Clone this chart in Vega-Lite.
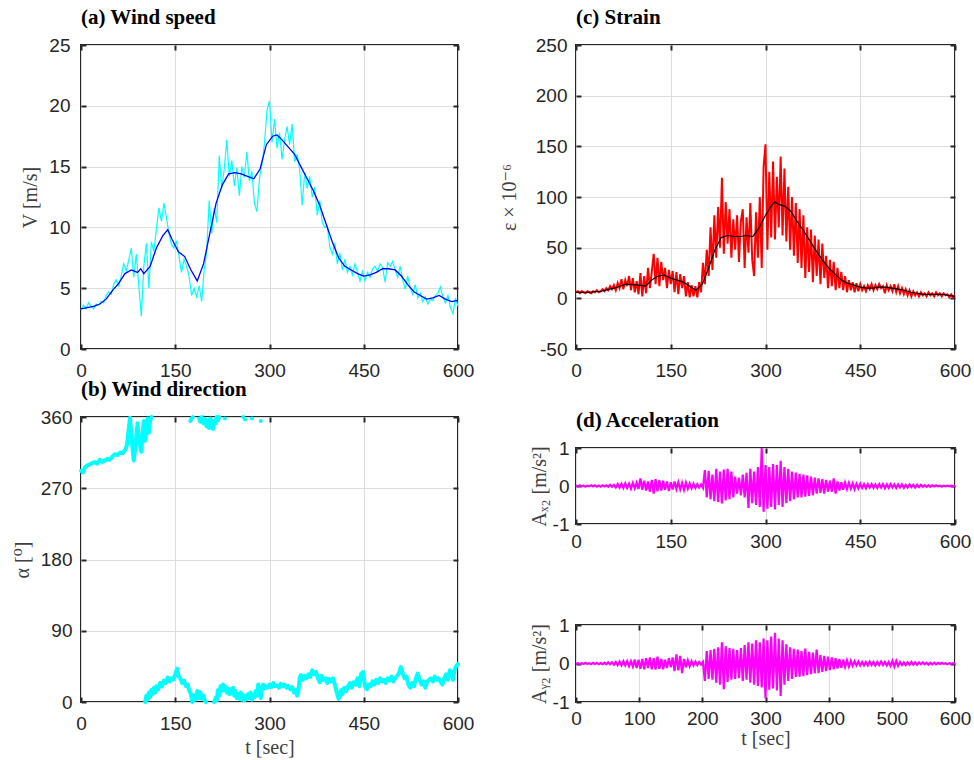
{
"$schema":"https://vega.github.io/schema/vega-lite/v6.json",
"background":"white",
"padding":{"left":11,"top":6,"right":2,"bottom":2},
"config":{
 "view":{"stroke":"#262626","strokeWidth":2},
 "axis":{"labelFont":"Liberation Sans","labelFontSize":19,"labelColor":"#262626","labelFlush":false,"labelOverlap":false,"titleFont":"Liberation Serif, DejaVu Serif","titleFontSize":20,"titleColor":"#404040","titleFontWeight":"normal","gridColor":"#dddddd","gridWidth":1,"domain":false,"tickColor":"#262626","tickSize":-5,"tickWidth":2,"labelPadding":16,"labelExpr":"'' + datum.value"},
 "title":{"font":"Liberation Serif","fontSize":21,"fontWeight":"bold","anchor":"start","frame":"group","color":"#000000","baseline":"alphabetic","offset":8},
 "line":{"strokeCap":"butt"}
},
"datasets":{
"wsRaw":[{"t":0,"v":3.2},{"t":4,"v":3.6},{"t":8,"v":3.3},{"t":12,"v":3.8},{"t":16,"v":3.5},{"t":20,"v":3.3},{"t":24,"v":3.7},{"t":28,"v":3.6},{"t":32,"v":3.9},{"t":36,"v":3.8},{"t":40,"v":4.4},{"t":44,"v":4.7},{"t":48,"v":4.5},{"t":52,"v":5.3},{"t":56,"v":5.7},{"t":60,"v":5.2},{"t":64,"v":6.0},{"t":68,"v":7.0},{"t":72,"v":6.4},{"t":76,"v":7.3},{"t":80,"v":8.3},{"t":84,"v":5.9},{"t":88,"v":7.8},{"t":92,"v":5.2},{"t":96,"v":2.7},{"t":100,"v":6.8},{"t":104,"v":8.7},{"t":108,"v":5.0},{"t":112,"v":8.8},{"t":116,"v":8.0},{"t":120,"v":9.9},{"t":124,"v":11.6},{"t":128,"v":10.5},{"t":132,"v":12.0},{"t":136,"v":10.8},{"t":140,"v":9.5},{"t":144,"v":8.6},{"t":148,"v":8.3},{"t":152,"v":8.9},{"t":156,"v":7.6},{"t":160,"v":6.3},{"t":164,"v":7.4},{"t":168,"v":6.8},{"t":172,"v":6.0},{"t":176,"v":4.4},{"t":180,"v":5.0},{"t":184,"v":4.3},{"t":188,"v":5.2},{"t":192,"v":3.9},{"t":196,"v":6.5},{"t":200,"v":8.0},{"t":204,"v":12.2},{"t":208,"v":9.5},{"t":212,"v":11.6},{"t":216,"v":10.4},{"t":220,"v":15.9},{"t":224,"v":13.2},{"t":228,"v":14.8},{"t":232,"v":17.2},{"t":236,"v":14.2},{"t":240,"v":15.5},{"t":244,"v":13.4},{"t":248,"v":14.9},{"t":252,"v":12.6},{"t":256,"v":15.0},{"t":260,"v":14.1},{"t":264,"v":16.2},{"t":268,"v":13.8},{"t":272,"v":14.6},{"t":276,"v":12.0},{"t":280,"v":11.3},{"t":284,"v":14.0},{"t":288,"v":15.2},{"t":292,"v":16.9},{"t":296,"v":19.6},{"t":300,"v":20.4},{"t":304,"v":17.0},{"t":308,"v":18.9},{"t":312,"v":16.5},{"t":316,"v":17.8},{"t":320,"v":15.6},{"t":324,"v":17.2},{"t":328,"v":18.3},{"t":332,"v":16.8},{"t":336,"v":18.5},{"t":340,"v":15.4},{"t":344,"v":16.0},{"t":348,"v":14.8},{"t":352,"v":11.8},{"t":356,"v":14.5},{"t":360,"v":13.2},{"t":364,"v":14.2},{"t":368,"v":12.5},{"t":372,"v":13.3},{"t":376,"v":11.0},{"t":380,"v":12.2},{"t":384,"v":10.4},{"t":388,"v":10.0},{"t":392,"v":10.1},{"t":396,"v":8.4},{"t":400,"v":7.8},{"t":404,"v":8.7},{"t":408,"v":7.0},{"t":412,"v":7.9},{"t":416,"v":6.5},{"t":420,"v":7.4},{"t":424,"v":6.3},{"t":428,"v":6.8},{"t":432,"v":6.1},{"t":436,"v":7.0},{"t":440,"v":6.3},{"t":444,"v":5.6},{"t":448,"v":6.4},{"t":452,"v":5.6},{"t":456,"v":6.3},{"t":460,"v":5.9},{"t":464,"v":6.6},{"t":468,"v":6.8},{"t":472,"v":6.4},{"t":476,"v":7.0},{"t":480,"v":6.7},{"t":484,"v":5.5},{"t":488,"v":7.1},{"t":492,"v":6.8},{"t":496,"v":7.2},{"t":500,"v":6.5},{"t":504,"v":5.9},{"t":508,"v":6.8},{"t":512,"v":5.7},{"t":516,"v":4.9},{"t":520,"v":6.0},{"t":524,"v":5.0},{"t":528,"v":4.5},{"t":532,"v":5.3},{"t":536,"v":4.2},{"t":540,"v":4.6},{"t":544,"v":3.9},{"t":548,"v":4.3},{"t":552,"v":3.7},{"t":556,"v":4.1},{"t":560,"v":4.0},{"t":564,"v":4.4},{"t":568,"v":4.6},{"t":572,"v":5.1},{"t":576,"v":4.3},{"t":580,"v":3.8},{"t":584,"v":4.4},{"t":588,"v":3.4},{"t":592,"v":2.9},{"t":596,"v":4.2},{"t":600,"v":3.5}],
"wsSmooth":[{"t":0,"v":3.3},{"t":10,"v":3.4},{"t":20,"v":3.5},{"t":30,"v":3.7},{"t":40,"v":4.1},{"t":50,"v":4.8},{"t":60,"v":5.4},{"t":70,"v":6.2},{"t":80,"v":6.5},{"t":90,"v":6.3},{"t":95,"v":6.6},{"t":100,"v":6.2},{"t":110,"v":6.8},{"t":120,"v":8.3},{"t":130,"v":9.3},{"t":138,"v":9.8},{"t":145,"v":9.0},{"t":155,"v":8.0},{"t":165,"v":7.6},{"t":175,"v":6.5},{"t":185,"v":5.6},{"t":195,"v":7.0},{"t":205,"v":9.5},{"t":215,"v":12.0},{"t":225,"v":13.5},{"t":235,"v":14.4},{"t":245,"v":14.5},{"t":255,"v":14.4},{"t":265,"v":14.2},{"t":275,"v":14.0},{"t":285,"v":14.8},{"t":295,"v":16.8},{"t":305,"v":17.5},{"t":312,"v":17.6},{"t":320,"v":17.2},{"t":330,"v":16.6},{"t":340,"v":16.0},{"t":350,"v":15.0},{"t":360,"v":14.0},{"t":370,"v":13.0},{"t":380,"v":11.8},{"t":390,"v":10.3},{"t":400,"v":8.8},{"t":410,"v":7.5},{"t":420,"v":6.8},{"t":430,"v":6.5},{"t":440,"v":6.2},{"t":450,"v":6.0},{"t":460,"v":6.1},{"t":470,"v":6.3},{"t":480,"v":6.6},{"t":490,"v":6.6},{"t":500,"v":6.5},{"t":510,"v":6.0},{"t":520,"v":5.3},{"t":530,"v":4.7},{"t":540,"v":4.4},{"t":550,"v":4.1},{"t":560,"v":4.2},{"t":570,"v":4.4},{"t":580,"v":4.1},{"t":590,"v":3.9},{"t":600,"v":4.0}],
"dirLine":[
{"t":0,"v":292,"seg":"A"},{"t":3,"v":290,"seg":"A"},{"t":6,"v":296,"seg":"A"},{"t":10,"v":299,"seg":"A"},{"t":14,"v":300,"seg":"A"},{"t":18,"v":302,"seg":"A"},{"t":22,"v":303,"seg":"A"},{"t":26,"v":301,"seg":"A"},{"t":30,"v":306,"seg":"A"},{"t":34,"v":303,"seg":"A"},{"t":38,"v":305,"seg":"A"},{"t":42,"v":307,"seg":"A"},{"t":46,"v":306,"seg":"A"},{"t":50,"v":310,"seg":"A"},{"t":54,"v":313,"seg":"A"},{"t":58,"v":312,"seg":"A"},{"t":62,"v":315,"seg":"A"},{"t":66,"v":314,"seg":"A"},{"t":70,"v":318,"seg":"A"},{"t":73,"v":324,"seg":"A"},{"t":76,"v":345,"seg":"A"},{"t":78,"v":359,"seg":"A"},{"t":80,"v":340,"seg":"A"},{"t":82,"v":320,"seg":"A"},{"t":84,"v":305,"seg":"A"},{"t":86,"v":318,"seg":"A"},{"t":88,"v":335,"seg":"A"},{"t":90,"v":352,"seg":"A"},{"t":92,"v":330,"seg":"A"},{"t":94,"v":325,"seg":"A"},{"t":96,"v":316,"seg":"A"},{"t":98,"v":340,"seg":"A"},{"t":100,"v":355,"seg":"A"},{"t":102,"v":330,"seg":"A"},{"t":104,"v":345,"seg":"A"},{"t":106,"v":358,"seg":"A"},{"t":108,"v":340,"seg":"A"},{"t":110,"v":355,"seg":"A"},{"t":112,"v":360,"seg":"A"},
{"t":102,"v":0,"seg":"B"},{"t":104,"v":8,"seg":"B"},{"t":106,"v":3,"seg":"B"},{"t":108,"v":12,"seg":"B"},{"t":110,"v":6,"seg":"B"},{"t":112,"v":15,"seg":"B"},{"t":114,"v":10,"seg":"B"},{"t":116,"v":18,"seg":"B"},{"t":118,"v":12,"seg":"B"},{"t":120,"v":20,"seg":"B"},{"t":123,"v":16,"seg":"B"},{"t":126,"v":24,"seg":"B"},{"t":129,"v":20,"seg":"B"},{"t":132,"v":27,"seg":"B"},{"t":135,"v":24,"seg":"B"},{"t":138,"v":31,"seg":"B"},{"t":141,"v":26,"seg":"B"},{"t":144,"v":30,"seg":"B"},{"t":147,"v":28,"seg":"B"},{"t":150,"v":35,"seg":"B"},{"t":153,"v":42,"seg":"B"},{"t":155,"v":33,"seg":"B"},{"t":158,"v":30,"seg":"B"},{"t":161,"v":24,"seg":"B"},{"t":164,"v":27,"seg":"B"},{"t":167,"v":20,"seg":"B"},{"t":170,"v":22,"seg":"B"},{"t":172,"v":15,"seg":"B"},{"t":175,"v":10,"seg":"B"},{"t":177,"v":0,"seg":"B"},{"t":179,"v":8,"seg":"B"},{"t":182,"v":3,"seg":"B"},{"t":185,"v":14,"seg":"B"},{"t":187,"v":5,"seg":"B"},{"t":190,"v":12,"seg":"B"},{"t":192,"v":4,"seg":"B"},{"t":195,"v":8,"seg":"B"},{"t":197,"v":2,"seg":"B"},{"t":199,"v":0,"seg":"B"},
{"t":174,"v":355,"seg":"C1"},{"t":176,"v":358,"seg":"C1"},{"t":178,"v":360,"seg":"C1"},
{"t":188,"v":358,"seg":"C2"},{"t":190,"v":354,"seg":"C2"},{"t":192,"v":360,"seg":"C2"},{"t":195,"v":352,"seg":"C2"},{"t":198,"v":357,"seg":"C2"},{"t":200,"v":348,"seg":"C2"},{"t":202,"v":356,"seg":"C2"},{"t":204,"v":346,"seg":"C2"},{"t":206,"v":358,"seg":"C2"},{"t":208,"v":350,"seg":"C2"},{"t":210,"v":345,"seg":"C2"},{"t":212,"v":355,"seg":"C2"},{"t":214,"v":352,"seg":"C2"},{"t":216,"v":360,"seg":"C2"},{"t":218,"v":356,"seg":"C2"},{"t":220,"v":360,"seg":"C2"},
{"t":212,"v":0,"seg":"D"},{"t":214,"v":5,"seg":"D"},{"t":216,"v":2,"seg":"D"},{"t":218,"v":15,"seg":"D"},{"t":220,"v":8,"seg":"D"},{"t":222,"v":20,"seg":"D"},{"t":224,"v":14,"seg":"D"},{"t":226,"v":22,"seg":"D"},{"t":228,"v":15,"seg":"D"},{"t":230,"v":19,"seg":"D"},{"t":232,"v":12,"seg":"D"},{"t":234,"v":17,"seg":"D"},{"t":236,"v":10,"seg":"D"},{"t":238,"v":16,"seg":"D"},{"t":240,"v":12,"seg":"D"},{"t":242,"v":18,"seg":"D"},{"t":244,"v":8,"seg":"D"},{"t":246,"v":14,"seg":"D"},{"t":248,"v":5,"seg":"D"},{"t":250,"v":10,"seg":"D"},{"t":252,"v":4,"seg":"D"},{"t":254,"v":12,"seg":"D"},{"t":256,"v":3,"seg":"D"},{"t":258,"v":9,"seg":"D"},{"t":260,"v":2,"seg":"D"},{"t":262,"v":8,"seg":"D"},{"t":264,"v":4,"seg":"D"},{"t":266,"v":10,"seg":"D"},{"t":268,"v":5,"seg":"D"},{"t":270,"v":12,"seg":"D"},{"t":272,"v":3,"seg":"D"},{"t":274,"v":9,"seg":"D"},{"t":276,"v":6,"seg":"D"},{"t":278,"v":14,"seg":"D"},{"t":280,"v":8,"seg":"D"},{"t":282,"v":22,"seg":"D"},{"t":284,"v":15,"seg":"D"},{"t":286,"v":5,"seg":"D"},{"t":288,"v":18,"seg":"D"},{"t":290,"v":22,"seg":"D"},{"t":292,"v":17,"seg":"D"},{"t":294,"v":20,"seg":"D"},{"t":297,"v":18,"seg":"D"},{"t":300,"v":22,"seg":"D"},{"t":303,"v":19,"seg":"D"},{"t":306,"v":24,"seg":"D"},{"t":309,"v":20,"seg":"D"},{"t":312,"v":21,"seg":"D"},{"t":315,"v":18,"seg":"D"},{"t":318,"v":23,"seg":"D"},{"t":321,"v":20,"seg":"D"},{"t":324,"v":22,"seg":"D"},{"t":327,"v":18,"seg":"D"},{"t":330,"v":20,"seg":"D"},{"t":333,"v":16,"seg":"D"},{"t":336,"v":19,"seg":"D"},{"t":339,"v":12,"seg":"D"},{"t":342,"v":15,"seg":"D"},{"t":344,"v":8,"seg":"D"},{"t":346,"v":14,"seg":"D"},{"t":348,"v":30,"seg":"D"},{"t":350,"v":34,"seg":"D"},{"t":353,"v":28,"seg":"D"},{"t":356,"v":33,"seg":"D"},{"t":359,"v":30,"seg":"D"},{"t":362,"v":35,"seg":"D"},{"t":365,"v":32,"seg":"D"},{"t":368,"v":40,"seg":"D"},{"t":371,"v":35,"seg":"D"},{"t":374,"v":38,"seg":"D"},{"t":377,"v":30,"seg":"D"},{"t":380,"v":25,"seg":"D"},{"t":383,"v":33,"seg":"D"},{"t":386,"v":28,"seg":"D"},{"t":389,"v":30,"seg":"D"},{"t":392,"v":24,"seg":"D"},{"t":395,"v":29,"seg":"D"},{"t":398,"v":26,"seg":"D"},{"t":401,"v":30,"seg":"D"},{"t":404,"v":22,"seg":"D"},{"t":407,"v":12,"seg":"D"},{"t":410,"v":4,"seg":"D"},{"t":412,"v":8,"seg":"D"},{"t":414,"v":15,"seg":"D"},{"t":416,"v":10,"seg":"D"},{"t":419,"v":18,"seg":"D"},{"t":422,"v":14,"seg":"D"},{"t":425,"v":20,"seg":"D"},{"t":428,"v":24,"seg":"D"},{"t":431,"v":18,"seg":"D"},{"t":434,"v":25,"seg":"D"},{"t":437,"v":22,"seg":"D"},{"t":440,"v":30,"seg":"D"},{"t":443,"v":20,"seg":"D"},{"t":446,"v":36,"seg":"D"},{"t":449,"v":38,"seg":"D"},{"t":452,"v":20,"seg":"D"},{"t":455,"v":16,"seg":"D"},{"t":458,"v":22,"seg":"D"},{"t":461,"v":20,"seg":"D"},{"t":464,"v":26,"seg":"D"},{"t":467,"v":22,"seg":"D"},{"t":470,"v":28,"seg":"D"},{"t":473,"v":24,"seg":"D"},{"t":476,"v":30,"seg":"D"},{"t":479,"v":26,"seg":"D"},{"t":482,"v":28,"seg":"D"},{"t":485,"v":24,"seg":"D"},{"t":488,"v":30,"seg":"D"},{"t":491,"v":27,"seg":"D"},{"t":494,"v":32,"seg":"D"},{"t":497,"v":26,"seg":"D"},{"t":500,"v":30,"seg":"D"},{"t":503,"v":33,"seg":"D"},{"t":506,"v":36,"seg":"D"},{"t":509,"v":44,"seg":"D"},{"t":512,"v":36,"seg":"D"},{"t":515,"v":30,"seg":"D"},{"t":518,"v":32,"seg":"D"},{"t":521,"v":22,"seg":"D"},{"t":524,"v":18,"seg":"D"},{"t":527,"v":24,"seg":"D"},{"t":530,"v":20,"seg":"D"},{"t":533,"v":30,"seg":"D"},{"t":536,"v":36,"seg":"D"},{"t":539,"v":28,"seg":"D"},{"t":542,"v":22,"seg":"D"},{"t":545,"v":26,"seg":"D"},{"t":548,"v":18,"seg":"D"},{"t":551,"v":26,"seg":"D"},{"t":554,"v":28,"seg":"D"},{"t":557,"v":30,"seg":"D"},{"t":560,"v":26,"seg":"D"},{"t":563,"v":32,"seg":"D"},{"t":566,"v":28,"seg":"D"},{"t":569,"v":30,"seg":"D"},{"t":572,"v":26,"seg":"D"},{"t":575,"v":22,"seg":"D"},{"t":578,"v":30,"seg":"D"},{"t":581,"v":35,"seg":"D"},{"t":584,"v":28,"seg":"D"},{"t":587,"v":40,"seg":"D"},{"t":590,"v":38,"seg":"D"},{"t":592,"v":28,"seg":"D"},{"t":594,"v":38,"seg":"D"},{"t":596,"v":44,"seg":"D"},{"t":598,"v":46,"seg":"D"},{"t":600,"v":48,"seg":"D"}],
"dirDots":[{"t":229,"v":358},{"t":258,"v":360},{"t":261,"v":357},{"t":272,"v":358},{"t":286,"v":355}],
"strainRaw":[{"t":0,"v":6},{"t":3,"v":7},{"t":6,"v":5},{"t":9,"v":7},{"t":12,"v":6},{"t":15,"v":5},{"t":18,"v":7},{"t":21,"v":6},{"t":24,"v":5},{"t":27,"v":7},{"t":30,"v":6},{"t":33,"v":8},{"t":36,"v":6},{"t":39,"v":7},{"t":42,"v":9},{"t":45,"v":7},{"t":48,"v":10},{"t":51,"v":8},{"t":54,"v":12},{"t":57,"v":9},{"t":60,"v":13},{"t":63,"v":8},{"t":66,"v":15},{"t":69,"v":10},{"t":72,"v":19},{"t":75,"v":9},{"t":78,"v":18},{"t":81,"v":12},{"t":84,"v":22},{"t":87,"v":8},{"t":90,"v":20},{"t":93,"v":6},{"t":96,"v":17},{"t":99,"v":4},{"t":102,"v":25},{"t":105,"v":2},{"t":108,"v":22},{"t":111,"v":5},{"t":114,"v":30},{"t":117,"v":10},{"t":120,"v":26},{"t":123,"v":44},{"t":126,"v":14},{"t":129,"v":40},{"t":132,"v":12},{"t":135,"v":36},{"t":138,"v":18},{"t":141,"v":30},{"t":144,"v":10},{"t":147,"v":28},{"t":150,"v":14},{"t":153,"v":27},{"t":156,"v":6},{"t":159,"v":26},{"t":162,"v":4},{"t":165,"v":24},{"t":168,"v":10},{"t":171,"v":22},{"t":174,"v":2},{"t":177,"v":16},{"t":180,"v":1},{"t":183,"v":13},{"t":186,"v":2},{"t":189,"v":12},{"t":192,"v":1},{"t":195,"v":16},{"t":198,"v":6},{"t":201,"v":35},{"t":204,"v":14},{"t":207,"v":48},{"t":210,"v":22},{"t":213,"v":70},{"t":216,"v":28},{"t":219,"v":82},{"t":222,"v":40},{"t":225,"v":90},{"t":228,"v":50},{"t":231,"v":119},{"t":234,"v":44},{"t":237,"v":95},{"t":240,"v":54},{"t":243,"v":88},{"t":246,"v":40},{"t":249,"v":78},{"t":252,"v":48},{"t":255,"v":82},{"t":258,"v":36},{"t":261,"v":76},{"t":264,"v":88},{"t":267,"v":30},{"t":270,"v":80},{"t":273,"v":45},{"t":276,"v":94},{"t":279,"v":38},{"t":282,"v":22},{"t":285,"v":85},{"t":288,"v":40},{"t":291,"v":100},{"t":294,"v":30},{"t":297,"v":130},{"t":300,"v":152},{"t":303,"v":48},{"t":306,"v":125},{"t":309,"v":60},{"t":312,"v":135},{"t":315,"v":58},{"t":318,"v":120},{"t":321,"v":70},{"t":324,"v":140},{"t":327,"v":62},{"t":330,"v":128},{"t":333,"v":56},{"t":336,"v":110},{"t":339,"v":48},{"t":342,"v":100},{"t":345,"v":42},{"t":348,"v":94},{"t":351,"v":35},{"t":354,"v":88},{"t":357,"v":30},{"t":360,"v":82},{"t":363,"v":20},{"t":366,"v":70},{"t":369,"v":26},{"t":372,"v":68},{"t":375,"v":16},{"t":378,"v":62},{"t":381,"v":22},{"t":384,"v":58},{"t":387,"v":14},{"t":390,"v":54},{"t":393,"v":20},{"t":396,"v":42},{"t":399,"v":10},{"t":402,"v":38},{"t":405,"v":12},{"t":408,"v":36},{"t":411,"v":8},{"t":414,"v":30},{"t":417,"v":10},{"t":420,"v":26},{"t":423,"v":8},{"t":426,"v":22},{"t":429,"v":6},{"t":432,"v":18},{"t":435,"v":8},{"t":438,"v":16},{"t":441,"v":6},{"t":444,"v":15},{"t":447,"v":7},{"t":450,"v":14},{"t":453,"v":8},{"t":456,"v":12},{"t":459,"v":7},{"t":462,"v":13},{"t":465,"v":9},{"t":468,"v":14},{"t":471,"v":8},{"t":474,"v":13},{"t":477,"v":9},{"t":480,"v":14},{"t":483,"v":10},{"t":486,"v":12},{"t":489,"v":5},{"t":492,"v":13},{"t":495,"v":8},{"t":498,"v":12},{"t":501,"v":7},{"t":504,"v":14},{"t":507,"v":6},{"t":510,"v":12},{"t":513,"v":5},{"t":516,"v":10},{"t":519,"v":4},{"t":522,"v":9},{"t":525,"v":3},{"t":528,"v":8},{"t":531,"v":2},{"t":534,"v":7},{"t":537,"v":3},{"t":540,"v":6},{"t":543,"v":2},{"t":546,"v":6},{"t":549,"v":3},{"t":552,"v":5},{"t":555,"v":2},{"t":558,"v":6},{"t":561,"v":3},{"t":564,"v":5},{"t":567,"v":2},{"t":570,"v":6},{"t":573,"v":3},{"t":576,"v":5},{"t":579,"v":2},{"t":582,"v":5},{"t":585,"v":3},{"t":588,"v":4},{"t":591,"v":1},{"t":594,"v":4},{"t":597,"v":1},{"t":600,"v":3}],
"strainSmooth":[{"t":0,"v":6},{"t":20,"v":6},{"t":40,"v":7},{"t":60,"v":10},{"t":80,"v":14},{"t":100,"v":13},{"t":110,"v":12},{"t":120,"v":18},{"t":130,"v":22},{"t":140,"v":23},{"t":150,"v":20},{"t":160,"v":18},{"t":170,"v":16},{"t":180,"v":12},{"t":190,"v":8},{"t":200,"v":14},{"t":210,"v":30},{"t":220,"v":48},{"t":230,"v":60},{"t":240,"v":62},{"t":250,"v":61},{"t":260,"v":61},{"t":270,"v":62},{"t":280,"v":61},{"t":290,"v":70},{"t":300,"v":82},{"t":310,"v":92},{"t":315,"v":95},{"t":320,"v":93},{"t":330,"v":91},{"t":340,"v":86},{"t":350,"v":76},{"t":360,"v":67},{"t":370,"v":57},{"t":380,"v":47},{"t":390,"v":38},{"t":400,"v":30},{"t":410,"v":24},{"t":420,"v":18},{"t":430,"v":15},{"t":440,"v":13},{"t":450,"v":11},{"t":460,"v":10},{"t":470,"v":10},{"t":480,"v":11},{"t":490,"v":11},{"t":500,"v":10},{"t":510,"v":9},{"t":520,"v":8},{"t":530,"v":6},{"t":540,"v":5},{"t":550,"v":4},{"t":560,"v":4},{"t":570,"v":4},{"t":580,"v":4},{"t":590,"v":3},{"t":600,"v":2}],
"ax2":[{"t":0,"v":0.01},{"t":3,"v":-0.01},{"t":6,"v":0.02},{"t":9,"v":-0.01},{"t":12,"v":0.01},{"t":15,"v":-0.02},{"t":18,"v":0.01},{"t":21,"v":-0.01},{"t":24,"v":0.02},{"t":27,"v":-0.01},{"t":30,"v":0.02},{"t":33,"v":-0.02},{"t":36,"v":0.01},{"t":39,"v":-0.02},{"t":42,"v":0.02},{"t":45,"v":-0.01},{"t":48,"v":0.02},{"t":51,"v":-0.02},{"t":54,"v":0.03},{"t":57,"v":-0.02},{"t":60,"v":0.03},{"t":63,"v":-0.04},{"t":66,"v":0.05},{"t":69,"v":-0.04},{"t":72,"v":0.06},{"t":75,"v":-0.05},{"t":78,"v":0.07},{"t":81,"v":-0.05},{"t":84,"v":0.06},{"t":87,"v":-0.07},{"t":90,"v":0.08},{"t":93,"v":-0.06},{"t":96,"v":0.09},{"t":99,"v":-0.08},{"t":102,"v":0.2},{"t":105,"v":-0.1},{"t":108,"v":0.14},{"t":111,"v":-0.12},{"t":114,"v":0.12},{"t":117,"v":-0.15},{"t":120,"v":0.16},{"t":123,"v":-0.2},{"t":126,"v":0.18},{"t":129,"v":-0.14},{"t":132,"v":0.15},{"t":135,"v":-0.12},{"t":138,"v":0.14},{"t":141,"v":-0.1},{"t":144,"v":0.12},{"t":147,"v":-0.13},{"t":150,"v":0.1},{"t":153,"v":-0.09},{"t":156,"v":0.12},{"t":159,"v":-0.08},{"t":162,"v":0.1},{"t":165,"v":-0.09},{"t":168,"v":0.08},{"t":171,"v":-0.1},{"t":174,"v":0.09},{"t":177,"v":-0.07},{"t":180,"v":0.07},{"t":183,"v":-0.06},{"t":186,"v":0.06},{"t":189,"v":-0.05},{"t":192,"v":0.05},{"t":195,"v":-0.04},{"t":198,"v":0.04},{"t":201,"v":-0.05},{"t":204,"v":0.42},{"t":207,"v":-0.3},{"t":210,"v":0.4},{"t":213,"v":-0.35},{"t":216,"v":0.3},{"t":219,"v":-0.4},{"t":222,"v":0.45},{"t":225,"v":-0.42},{"t":228,"v":0.38},{"t":231,"v":-0.46},{"t":234,"v":0.43},{"t":237,"v":-0.38},{"t":240,"v":0.45},{"t":243,"v":-0.35},{"t":246,"v":0.38},{"t":249,"v":-0.3},{"t":252,"v":0.25},{"t":255,"v":-0.2},{"t":258,"v":0.22},{"t":261,"v":-0.25},{"t":264,"v":0.3},{"t":267,"v":-0.3},{"t":270,"v":0.35},{"t":273,"v":-0.58},{"t":276,"v":0.45},{"t":279,"v":-0.45},{"t":282,"v":0.38},{"t":285,"v":-0.5},{"t":288,"v":0.5},{"t":291,"v":-0.55},{"t":294,"v":1.0},{"t":297,"v":-0.68},{"t":300,"v":0.55},{"t":303,"v":-0.6},{"t":306,"v":0.5},{"t":309,"v":-0.55},{"t":312,"v":0.58},{"t":315,"v":-0.62},{"t":318,"v":0.55},{"t":321,"v":-0.5},{"t":324,"v":0.66},{"t":327,"v":-0.55},{"t":330,"v":0.5},{"t":333,"v":-0.45},{"t":336,"v":0.45},{"t":339,"v":-0.4},{"t":342,"v":0.38},{"t":345,"v":-0.35},{"t":348,"v":0.35},{"t":351,"v":-0.3},{"t":354,"v":0.32},{"t":357,"v":-0.3},{"t":360,"v":0.3},{"t":363,"v":-0.28},{"t":366,"v":0.28},{"t":369,"v":-0.26},{"t":372,"v":0.25},{"t":375,"v":-0.24},{"t":378,"v":0.22},{"t":381,"v":-0.2},{"t":384,"v":0.2},{"t":387,"v":-0.18},{"t":390,"v":0.18},{"t":393,"v":-0.2},{"t":396,"v":0.16},{"t":399,"v":-0.15},{"t":402,"v":0.14},{"t":405,"v":-0.15},{"t":408,"v":0.2},{"t":411,"v":-0.2},{"t":414,"v":0.12},{"t":417,"v":-0.12},{"t":420,"v":0.1},{"t":423,"v":-0.1},{"t":426,"v":0.09},{"t":429,"v":-0.08},{"t":432,"v":0.08},{"t":435,"v":-0.07},{"t":438,"v":0.07},{"t":441,"v":-0.08},{"t":444,"v":0.06},{"t":447,"v":-0.06},{"t":450,"v":0.06},{"t":453,"v":-0.05},{"t":456,"v":0.05},{"t":459,"v":-0.06},{"t":462,"v":0.05},{"t":465,"v":-0.04},{"t":468,"v":0.05},{"t":471,"v":-0.05},{"t":474,"v":0.04},{"t":477,"v":-0.05},{"t":480,"v":0.05},{"t":483,"v":-0.04},{"t":486,"v":0.05},{"t":489,"v":-0.06},{"t":492,"v":0.04},{"t":495,"v":-0.05},{"t":498,"v":0.05},{"t":501,"v":-0.04},{"t":504,"v":0.04},{"t":507,"v":-0.05},{"t":510,"v":0.04},{"t":513,"v":-0.04},{"t":516,"v":0.04},{"t":519,"v":-0.05},{"t":522,"v":0.03},{"t":525,"v":-0.04},{"t":528,"v":0.04},{"t":531,"v":-0.03},{"t":534,"v":0.03},{"t":537,"v":-0.04},{"t":540,"v":0.03},{"t":543,"v":-0.03},{"t":546,"v":0.03},{"t":549,"v":-0.02},{"t":552,"v":0.02},{"t":555,"v":-0.02},{"t":558,"v":0.02},{"t":561,"v":-0.02},{"t":564,"v":0.02},{"t":567,"v":-0.01},{"t":570,"v":0.02},{"t":573,"v":-0.01},{"t":576,"v":0.01},{"t":579,"v":-0.02},{"t":582,"v":0.01},{"t":585,"v":-0.01},{"t":588,"v":0.01},{"t":591,"v":-0.01},{"t":594,"v":0.01},{"t":597,"v":-0.01},{"t":600,"v":0.01}],
"ay2":[{"t":0,"v":-0.01},{"t":3,"v":0.01},{"t":6,"v":-0.02},{"t":9,"v":0.01},{"t":12,"v":-0.01},{"t":15,"v":0.02},{"t":18,"v":-0.01},{"t":21,"v":0.01},{"t":24,"v":-0.02},{"t":27,"v":0.02},{"t":30,"v":-0.01},{"t":33,"v":0.02},{"t":36,"v":-0.02},{"t":39,"v":0.01},{"t":42,"v":-0.02},{"t":45,"v":0.02},{"t":48,"v":-0.02},{"t":51,"v":0.03},{"t":54,"v":-0.02},{"t":57,"v":0.03},{"t":60,"v":-0.03},{"t":63,"v":0.04},{"t":66,"v":-0.04},{"t":69,"v":0.05},{"t":72,"v":-0.05},{"t":75,"v":0.06},{"t":78,"v":-0.05},{"t":81,"v":0.06},{"t":84,"v":-0.07},{"t":87,"v":0.06},{"t":90,"v":-0.08},{"t":93,"v":0.1},{"t":96,"v":-0.12},{"t":99,"v":0.1},{"t":102,"v":-0.14},{"t":105,"v":0.12},{"t":108,"v":-0.15},{"t":111,"v":0.14},{"t":114,"v":-0.12},{"t":117,"v":0.16},{"t":120,"v":-0.15},{"t":123,"v":0.14},{"t":126,"v":-0.16},{"t":129,"v":0.18},{"t":132,"v":-0.14},{"t":135,"v":0.12},{"t":138,"v":-0.15},{"t":141,"v":0.1},{"t":144,"v":-0.12},{"t":147,"v":0.14},{"t":150,"v":-0.1},{"t":153,"v":0.16},{"t":156,"v":-0.2},{"t":159,"v":0.24},{"t":162,"v":-0.18},{"t":165,"v":0.2},{"t":168,"v":-0.25},{"t":171,"v":0.12},{"t":174,"v":-0.1},{"t":177,"v":0.08},{"t":180,"v":-0.07},{"t":183,"v":0.06},{"t":186,"v":-0.05},{"t":189,"v":0.05},{"t":192,"v":-0.04},{"t":195,"v":0.04},{"t":198,"v":-0.03},{"t":201,"v":0.04},{"t":204,"v":-0.45},{"t":207,"v":0.32},{"t":210,"v":-0.4},{"t":213,"v":0.35},{"t":216,"v":-0.42},{"t":219,"v":0.38},{"t":222,"v":-0.5},{"t":225,"v":0.42},{"t":228,"v":-0.55},{"t":231,"v":0.55},{"t":234,"v":-0.67},{"t":237,"v":0.45},{"t":240,"v":-0.48},{"t":243,"v":0.4},{"t":246,"v":-0.42},{"t":249,"v":0.38},{"t":252,"v":-0.4},{"t":255,"v":0.35},{"t":258,"v":-0.38},{"t":261,"v":0.4},{"t":264,"v":-0.45},{"t":267,"v":0.48},{"t":270,"v":-0.42},{"t":273,"v":0.55},{"t":276,"v":-0.5},{"t":279,"v":0.52},{"t":282,"v":-0.55},{"t":285,"v":0.6},{"t":288,"v":-0.58},{"t":291,"v":0.55},{"t":294,"v":-0.62},{"t":297,"v":0.65},{"t":300,"v":-0.91},{"t":303,"v":0.6},{"t":306,"v":-0.68},{"t":309,"v":0.7},{"t":312,"v":-0.65},{"t":315,"v":0.8},{"t":318,"v":-0.7},{"t":321,"v":0.65},{"t":324,"v":-0.84},{"t":327,"v":0.6},{"t":330,"v":-0.55},{"t":333,"v":0.5},{"t":336,"v":-0.45},{"t":339,"v":0.42},{"t":342,"v":-0.4},{"t":345,"v":0.38},{"t":348,"v":-0.35},{"t":351,"v":0.36},{"t":354,"v":-0.34},{"t":357,"v":0.32},{"t":360,"v":-0.33},{"t":363,"v":0.39},{"t":366,"v":-0.3},{"t":369,"v":0.3},{"t":372,"v":-0.28},{"t":375,"v":0.28},{"t":378,"v":-0.26},{"t":381,"v":0.36},{"t":384,"v":-0.25},{"t":387,"v":0.22},{"t":390,"v":-0.22},{"t":393,"v":0.2},{"t":396,"v":-0.2},{"t":399,"v":0.18},{"t":402,"v":-0.17},{"t":405,"v":0.16},{"t":408,"v":-0.15},{"t":411,"v":0.14},{"t":414,"v":-0.13},{"t":417,"v":0.12},{"t":420,"v":-0.11},{"t":423,"v":0.1},{"t":426,"v":-0.09},{"t":429,"v":0.08},{"t":432,"v":-0.08},{"t":435,"v":0.07},{"t":438,"v":-0.06},{"t":441,"v":0.06},{"t":444,"v":-0.05},{"t":447,"v":0.05},{"t":450,"v":-0.05},{"t":453,"v":0.04},{"t":456,"v":-0.05},{"t":459,"v":0.04},{"t":462,"v":-0.05},{"t":465,"v":0.05},{"t":468,"v":-0.04},{"t":471,"v":0.04},{"t":474,"v":-0.05},{"t":477,"v":0.04},{"t":480,"v":-0.04},{"t":483,"v":0.05},{"t":486,"v":-0.04},{"t":489,"v":0.04},{"t":492,"v":-0.05},{"t":495,"v":0.04},{"t":498,"v":-0.06},{"t":501,"v":0.07},{"t":504,"v":-0.08},{"t":507,"v":0.07},{"t":510,"v":-0.06},{"t":513,"v":0.04},{"t":516,"v":-0.04},{"t":519,"v":0.03},{"t":522,"v":-0.04},{"t":525,"v":0.03},{"t":528,"v":-0.03},{"t":531,"v":0.04},{"t":534,"v":-0.03},{"t":537,"v":0.03},{"t":540,"v":-0.03},{"t":543,"v":0.03},{"t":546,"v":-0.02},{"t":549,"v":0.03},{"t":552,"v":-0.02},{"t":555,"v":0.02},{"t":558,"v":-0.03},{"t":561,"v":0.02},{"t":564,"v":-0.02},{"t":567,"v":0.02},{"t":570,"v":-0.02},{"t":573,"v":0.02},{"t":576,"v":-0.01},{"t":579,"v":0.02},{"t":582,"v":-0.01},{"t":585,"v":0.01},{"t":588,"v":-0.02},{"t":591,"v":0.01},{"t":594,"v":-0.01},{"t":597,"v":0.01},{"t":600,"v":-0.01}]
},
"hconcat":[
 {"vconcat":[
  {"title":{"text":"(a) Wind speed"},"width":377,"height":304,
   "resolve":{"axis":{"x":"independent","y":"independent"}},
   "layer":[
    {"data":{"name":"wsRaw"},"mark":{"type":"line","color":"#00ffff","strokeWidth":1.2},
     "encoding":{"x":{"field":"t","type":"quantitative","scale":{"domain":[0,600],"nice":false,"zero":false},"axis":{"values":[0,150,300,450,600],"title":null,"labelPadding":17}},
      "y":{"field":"v","type":"quantitative","scale":{"domain":[0,25],"nice":false},"axis":{"values":[0,5,10,15,20,25],"title":"V [m/s]","titlePadding":8,"labelPadding":16}}}},
    {"data":{"name":"wsSmooth"},"mark":{"type":"line","color":"#0000ff","strokeWidth":1.3},
     "encoding":{"x":{"field":"t","type":"quantitative","axis":null},"y":{"field":"v","type":"quantitative","axis":null}}},
    {"data":{"name":"wsSmooth"},"mark":{"type":"point","opacity":0,"size":1},
     "encoding":{"x":{"field":"t","type":"quantitative","axis":{"orient":"top","values":[0,150,300,450,600],"labels":false,"grid":false,"title":null}},"y":{"field":"v","type":"quantitative","axis":{"orient":"right","values":[0,5,10,15,20,25],"labels":false,"grid":false,"title":null}}}}
   ]},
  {"title":{"text":"(b) Wind direction"},"width":377,"height":285,
   "resolve":{"axis":{"x":"independent","y":"independent"}},
   "layer":[
    {"data":{"name":"dirLine"},"mark":{"type":"line","color":"#00ffff","strokeWidth":4,"strokeCap":"round","strokeJoin":"round"},
     "encoding":{"x":{"field":"t","type":"quantitative","scale":{"domain":[0,600],"nice":false,"zero":false},"axis":{"values":[0,150,300,450,600],"title":"t [sec]","titlePadding":4,"labelPadding":17}},
      "y":{"field":"v","type":"quantitative","scale":{"domain":[0,360],"nice":false},"axis":{"values":[0,90,180,270,360],"title":"α [⁰]","titlePadding":8,"labelPadding":14}},
      "detail":{"field":"seg","type":"nominal"}}},
    {"data":{"name":"dirDots"},"mark":{"type":"point","filled":true,"color":"#00ffff","size":16,"opacity":1},
     "encoding":{"x":{"field":"t","type":"quantitative","axis":null},"y":{"field":"v","type":"quantitative","axis":null}}},
    {"data":{"name":"dirDots"},"mark":{"type":"point","opacity":0,"size":1},
     "encoding":{"x":{"field":"t","type":"quantitative","axis":{"orient":"top","values":[0,150,300,450,600],"labels":false,"grid":false,"title":null}},"y":{"field":"v","type":"quantitative","axis":{"orient":"right","values":[0,90,180,270,360],"labels":false,"grid":false,"title":null}}}}
   ]}
 ],"spacing":68,"bounds":"flush"},
 {"vconcat":[
  {"title":{"text":"(c) Strain"},"width":379,"height":304,
   "resolve":{"axis":{"x":"independent","y":"independent"}},
   "layer":[
    {"data":{"name":"strainRaw"},"mark":{"type":"line","color":"#ff0000","strokeWidth":2},
     "encoding":{"x":{"field":"t","type":"quantitative","scale":{"domain":[0,600],"nice":false,"zero":false},"axis":{"values":[0,150,300,450,600],"title":null,"labelPadding":17}},
      "y":{"field":"v","type":"quantitative","scale":{"domain":[-50,250],"nice":false},"axis":{"values":[-50,0,50,100,150,200,250],"title":"ε × 10⁻⁶","titlePadding":16,"labelPadding":14}}}},
    {"data":{"name":"strainSmooth"},"mark":{"type":"line","color":"#000000","strokeWidth":1.2},
     "encoding":{"x":{"field":"t","type":"quantitative","axis":null},"y":{"field":"v","type":"quantitative","axis":null}}},
    {"data":{"name":"strainSmooth"},"mark":{"type":"point","opacity":0,"size":1},
     "encoding":{"x":{"field":"t","type":"quantitative","axis":{"orient":"top","values":[0,150,300,450,600],"labels":false,"grid":false,"title":null}},"y":{"field":"v","type":"quantitative","axis":{"orient":"right","values":[-50,0,50,100,150,200,250],"labels":false,"grid":false,"title":null}}}}
   ]},
  {"vconcat":[
   {"title":{"text":"(d) Acceleration"},"width":379,"height":76,
    "resolve":{"axis":{"x":"independent","y":"independent"}},
    "layer":[
     {"data":{"name":"ax2"},"mark":{"type":"line","color":"#ff00ff","strokeWidth":2.2},
      "encoding":{"x":{"field":"t","type":"quantitative","scale":{"domain":[0,600],"nice":false,"zero":false},"axis":{"values":[0,150,300,450,600],"title":null,"labelPadding":13}},
       "y":{"field":"v","type":"quantitative","scale":{"domain":[-1,1],"nice":false},"axis":{"values":[-1,0,1],"title":"Aₓ₂ [m/s²]","titlePadding":3,"labelPadding":12}}}},
     {"data":{"name":"ax2"},"mark":{"type":"point","opacity":0,"size":1},
      "encoding":{"x":{"field":"t","type":"quantitative","axis":{"orient":"top","values":[0,150,300,450,600],"labels":false,"grid":false,"title":null}},"y":{"field":"v","type":"quantitative","axis":{"orient":"right","values":[-1,0,1],"labels":false,"grid":false,"title":null}}}}
    ]},
   {"width":379,"height":77,
    "resolve":{"axis":{"x":"independent","y":"independent"}},
    "layer":[
     {"data":{"name":"ay2"},"mark":{"type":"line","color":"#ff00ff","strokeWidth":2.2},
      "encoding":{"x":{"field":"t","type":"quantitative","scale":{"domain":[0,600],"nice":false,"zero":false},"axis":{"values":[0,100,200,300,400,500,600],"title":"t [sec]","labelPadding":12,"titlePadding":0}},
       "y":{"field":"v","type":"quantitative","scale":{"domain":[-1,1],"nice":false},"axis":{"values":[-1,0,1],"title":"Aᵧ₂ [m/s²]","titlePadding":3,"labelPadding":12}}}},
     {"data":{"name":"ay2"},"mark":{"type":"point","opacity":0,"size":1},
      "encoding":{"x":{"field":"t","type":"quantitative","axis":{"orient":"top","values":[0,100,200,300,400,500,600],"labels":false,"grid":false,"title":null}},"y":{"field":"v","type":"quantitative","axis":{"orient":"right","values":[-1,0,1],"labels":false,"grid":false,"title":null}}}}
    ]}
  ],"spacing":101,"bounds":"flush"}
 ],"spacing":99,"bounds":"flush"}
],"spacing":23,"bounds":"full"
}
